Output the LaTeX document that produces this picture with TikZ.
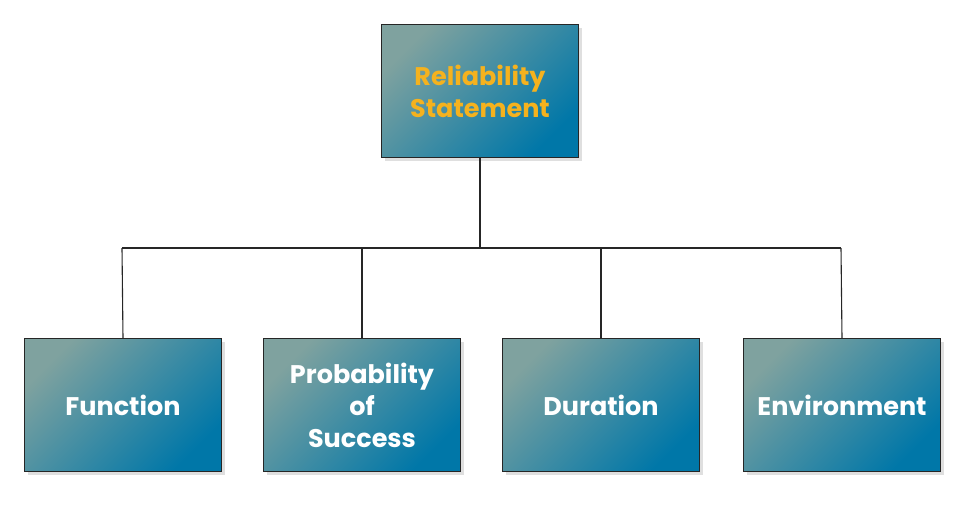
\documentclass[tikz,border=0pt]{standalone}
\usepackage{fontspec}
\setmainfont{Poppins}
\usetikzlibrary{shadows}
\definecolor{ctl}{HTML}{7FA29F}
\definecolor{cbr}{HTML}{0077A8}
\definecolor{gold}{HTML}{F5B21E}
\begin{document}
\begin{tikzpicture}[x=1pt,y=-1pt,
  box/.style={draw=black!85,line width=1.2pt,minimum width=197pt,minimum height=133pt,
    top color=ctl,bottom color=cbr,shading angle=45,
    drop shadow={shadow xshift=3pt,shadow yshift=-3pt,opacity=0.25},
    font=\bfseries\fontsize{25.5}{32}\selectfont,text=white,align=center,inner sep=2pt},
  ln/.style={line width=1.1pt,draw=black!85}]
\useasboundingbox (0,0) rectangle (980,512);
\node[box,text=gold] (top) at (480,91) {Reliability\\Statement};
\coordinate (j) at (480,248);
\coordinate (h1) at (122,248);
\coordinate (h2) at (362,248);
\coordinate (h3) at (601,248);
\coordinate (h4) at (841,248);
\node[box] (f) at (123,405) {Function};
\node[box] (p) at (362,405) {Probability\\of\\Success};
\node[box] (d) at (601,405) {Duration};
\node[box] (e) at (842,405) {Environment};
\draw[ln] (top.south) -- (j);
\draw[ln] (h1) -- (h4);
\draw[ln] (h1) -- (f.north);
\draw[ln] (h2) -- (p.north);
\draw[ln] (h3) -- (d.north);
\draw[ln] (h4) -- (e.north);
\end{tikzpicture}
\end{document}
